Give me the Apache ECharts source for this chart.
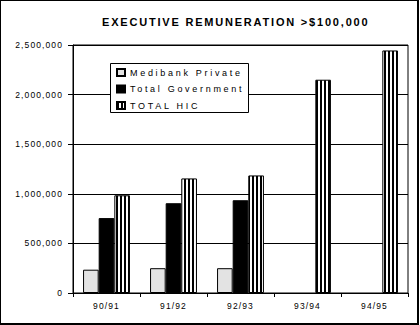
<!DOCTYPE html>
<html>
<head>
<meta charset="utf-8">
<script src="https://cdn.jsdelivr.net/npm/echarts@6/dist/echarts.min.js"></script>
<style>
html,body{margin:0;padding:0;background:#fff;}
#chart{width:420px;height:325px;}
</style>
</head>
<body>
<div id="chart"></div>
<script>
const categories = ['90/91', '91/92', '92/93', '93/94', '94/95'];
const medibank = [235000, 250000, 250000, '-', '-'];
const government = [755000, 905000, 935000, '-', '-'];
const totalHIC = [985000, 1155000, 1185000, 2150000, 2445000];
const seriesNames = ['Medibank Private', 'Total Government', 'TOTAL HIC'];
const titleText = 'EXECUTIVE REMUNERATION >$100,000';
const yMin = 0, yMax = 2500000, yStep = 500000;

const FONT = 'Liberation Sans, Arial, sans-serif';

// vertical stripe pattern
const pc = document.createElement('canvas');
pc.width = 4; pc.height = 4;
const pctx = pc.getContext('2d');
pctx.fillStyle = '#fff'; pctx.fillRect(0, 0, 4, 4);
pctx.fillStyle = '#000'; pctx.fillRect(0, 0, 2, 4);
const stripe = { image: pc, repeat: 'repeat', imageWidth: 4, imageHeight: 4 };

const chart = echarts.init(document.getElementById('chart'), null, { renderer: 'svg' });

const barBase = { type: 'bar', barGap: '0%', barCategoryGap: '30%', animation: false };

chart.setOption({
  animation: false,
  title: {
    text: titleText,
    left: 102, top: 16,
    padding: 0,
    textStyle: { fontFamily: FONT, fontSize: 11, fontWeight: 'bold', color: '#000' }
  },
  grid: {
    left: 73, top: 45, width: 335, height: 248,
    show: true, borderColor: '#000', borderWidth: 1, backgroundColor: 'transparent'
  },
  legend: {
    data: seriesNames,
    orient: 'vertical',
    left: 116, top: 67,
    padding: 0,
    itemGap: 5.5,
    itemWidth: 8, itemHeight: 7,
    icon: 'rect',
    z: 20,
    textStyle: { fontFamily: FONT, fontSize: 9, color: '#000', lineHeight: 11 }
  },
  xAxis: {
    type: 'category',
    data: categories,
    axisLine: { lineStyle: { color: '#000', width: 1 } },
    axisTick: { show: true, length: 4, lineStyle: { color: '#000' } },
    axisLabel: { fontFamily: FONT, fontSize: 8.5, color: '#000', margin: 8 }
  },
  yAxis: {
    type: 'value',
    min: yMin, max: yMax, interval: yStep,
    axisLine: { show: true, lineStyle: { color: '#000', width: 1 } },
    axisTick: { show: true, length: 5, lineStyle: { color: '#000' } },
    splitLine: { show: true, lineStyle: { color: '#000', width: 1 } },
    axisLabel: {
      fontFamily: FONT, fontSize: 8.5, color: '#000', margin: 10,
      formatter: v => v.toLocaleString('en-US')
    }
  },
  graphic: [
    { type: 'rect', z: 15, shape: { x: 110.5, y: 63.5, width: 138, height: 49 },
      style: { fill: '#fff', stroke: '#000', lineWidth: 1 } },
    { type: 'rect', z: 30, shape: { x: 0, y: 0, width: 419, height: 1 }, style: { fill: '#000' } },
    { type: 'rect', z: 30, shape: { x: 0, y: 0, width: 1, height: 325 }, style: { fill: '#000' } },
    { type: 'rect', z: 30, shape: { x: 417, y: 0, width: 2, height: 325 }, style: { fill: '#000' } },
    { type: 'rect', z: 30, shape: { x: 0, y: 323, width: 419, height: 2 }, style: { fill: '#000' } }
  ],
  series: [
    Object.assign({}, barBase, { name: seriesNames[0], data: medibank,
      itemStyle: { color: '#e3e3e3', borderColor: '#000', borderWidth: 1 } }),
    Object.assign({}, barBase, { name: seriesNames[1], data: government,
      itemStyle: { color: '#000', borderColor: '#000', borderWidth: 1 } }),
    Object.assign({}, barBase, { name: seriesNames[2], data: totalHIC,
      itemStyle: { color: stripe, borderColor: '#000', borderWidth: 1 } })
  ]
});

function applySpacing() {
  const texts = document.querySelectorAll('#chart svg text');
  texts.forEach(t => {
    const s = t.textContent || '';
    let ls = '1.1px';
    if (s === titleText) ls = '1.8px';
    else if (seriesNames.indexOf(s) >= 0) ls = '2.7px';
    t.setAttribute('letter-spacing', ls);
    t.style.letterSpacing = ls;
  });
}
chart.on('finished', applySpacing);
applySpacing();
setTimeout(applySpacing, 50);
setTimeout(applySpacing, 300);
</script>
</body>
</html>
